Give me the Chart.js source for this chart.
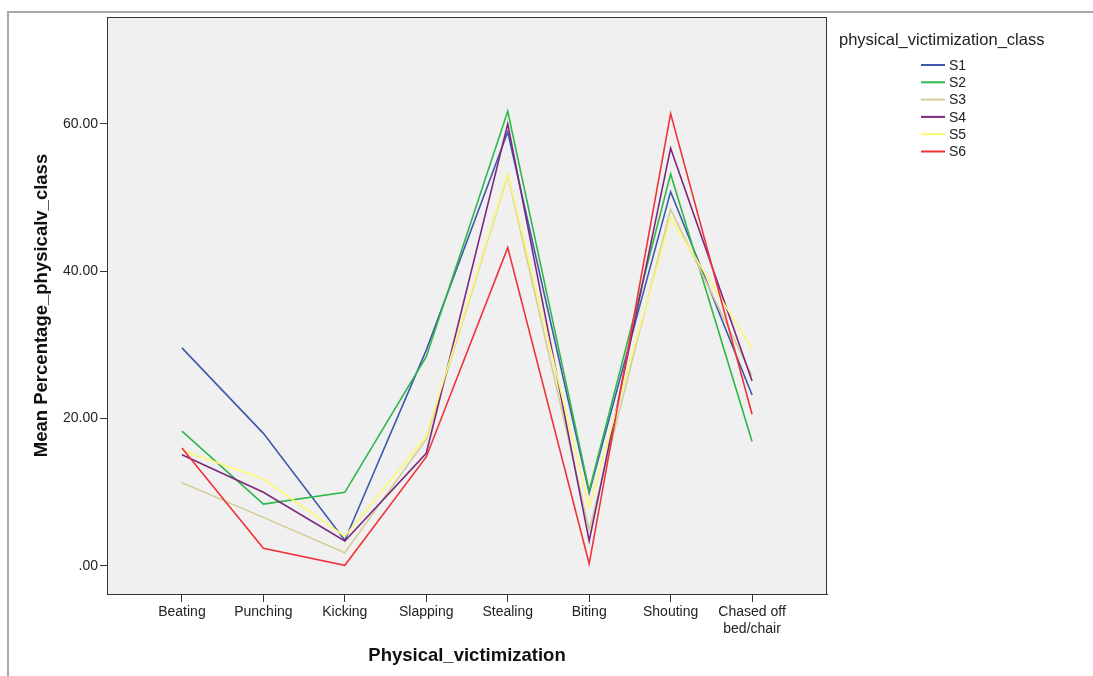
<!DOCTYPE html>
<html>
<head>
<meta charset="utf-8">
<title>Physical victimization</title>
<script src="https://cdn.jsdelivr.net/npm/chart.js@4"></script>
<style>
    html, body { margin: 0; padding: 0; background: #ffffff; }
    canvas { display: block; }
</style>
</head>
<body>
<canvas id="chart" width="1093" height="676"></canvas>
<script>
// Categories on the x axis
const categories = ['Beating', 'Punching', 'Kicking', 'Slapping', 'Stealing', 'Biting', 'Shouting', ['Chased off', 'bed/chair']];

// Mean percentage per class
const s1 = [29.6, 18.0, 3.5, 29.3, 58.9, 9.9, 50.8, 23.2];
const s2 = [18.3, 8.4, 10.0, 28.4, 61.7, 10.2, 53.2, 16.9];
const s3 = [11.3, 6.6, 1.8, 17.2, 53.0, 4.9, 48.4, 25.8];
const s4 = [15.1, 10.0, 3.4, 15.3, 60.0, 3.4, 56.7, 25.1];
const s5 = [15.7, 11.8, 4.0, 17.6, 53.2, 8.0, 47.2, 29.5];
const s6 = [16.0, 2.4, 0.1, 14.8, 43.2, 0.3, 61.4, 20.6];

const seriesNames = ['S1', 'S2', 'S3', 'S4', 'S5', 'S6'];
const seriesValues = [s1, s2, s3, s4, s5, s6];
const seriesColors = ['#3e58ac', '#2eb848', '#d3ce97', '#7c287d', '#fbf873', '#ef3338'];

// Tick labels
const yTicks = [0, 20, 40, 60];
const xTicks = categories.map((c, i) => i);

const FONT = "'Liberation Sans', Arial, sans-serif";
Chart.defaults.font.family = FONT;
Chart.defaults.color = '#222222';

// Grey plot background, frame, outer border and legend
const spssLook = {
    id: 'spssLook',
    beforeDraw(chart) {
        const { ctx, chartArea: a } = chart;
        ctx.save();
        ctx.strokeStyle = '#a8a8a8';
        ctx.lineWidth = 2;
        ctx.beginPath();
        ctx.moveTo(8, 676);
        ctx.lineTo(8, 12);
        ctx.lineTo(1093, 12);
        ctx.stroke();
        ctx.fillStyle = '#f0f0f0';
        ctx.fillRect(a.left, a.top, a.right - a.left, a.bottom - a.top);
        ctx.restore();
    },
    afterDraw(chart) {
        const { ctx, chartArea: a } = chart;
        ctx.save();
        ctx.strokeStyle = '#333333';
        ctx.lineWidth = 1;
        ctx.strokeRect(a.left + 0.5, a.top + 0.5, a.right - a.left - 1, a.bottom - a.top);

        // legend
        ctx.fillStyle = '#222222';
        ctx.textBaseline = 'middle';
        ctx.font = '16.5px ' + FONT;
        ctx.fillText('physical_victimization_class', 839, 40);
        ctx.font = '14px ' + FONT;
        chart.data.datasets.forEach((ds, i) => {
            const y = 65 + i * 17.3;
            ctx.strokeStyle = ds.borderColor;
            ctx.lineWidth = 2;
            ctx.beginPath();
            ctx.moveTo(921, y);
            ctx.lineTo(945, y);
            ctx.stroke();
            ctx.fillText(ds.label, 949, y + 1);
        });
        ctx.restore();
    }
};

new Chart(document.getElementById('chart'), {
    type: 'line',
    data: {
        datasets: seriesNames.map((name, i) => ({
            label: name,
            data: seriesValues[i].map((v, j) => ({ x: j, y: v })),
            borderColor: seriesColors[i],
            backgroundColor: seriesColors[i],
            borderWidth: 1.6,
            pointRadius: 0,
            tension: 0,
            fill: false,
            order: seriesNames.length - 1 - i   // later series on top
        }))
    },
    options: {
        responsive: false,
        animation: false,
        devicePixelRatio: 1,
        layout: { padding: { top: 17, right: 266, bottom: 0, left: 0 } },
        plugins: {
            legend: { display: false },
            tooltip: { enabled: false }
        },
        scales: {
            x: {
                type: 'linear',
                min: -0.92,
                max: 7.92,
                afterFit: scale => { scale.height = 82; },
                afterBuildTicks: scale => { scale.ticks = xTicks.map(v => ({ value: v })); },
                ticks: {
                    autoSkip: false,
                    maxRotation: 0,
                    padding: 2,
                    font: { size: 14 },
                    color: '#222222',
                    callback: value => categories[value]
                },
                grid: { drawOnChartArea: false, drawTicks: true, tickLength: 8, color: '#333333' },
                border: { display: true, color: '#333333' },
                title: {
                    display: true,
                    text: 'Physical_victimization',
                    font: { size: 18.5, weight: 'bold' },
                    color: '#111111',
                    padding: { top: 0, bottom: 9 }
                }
            },
            y: {
                min: -3.8,
                max: 74.5,
                afterFit: scale => { scale.width = 107; },
                afterBuildTicks: scale => { scale.ticks = yTicks.map(v => ({ value: v })); },
                ticks: {
                    padding: 2,
                    font: { size: 14 },
                    color: '#222222',
                    callback: value => value === 0 ? '.00' : value.toFixed(2)
                },
                grid: { drawOnChartArea: false, drawTicks: true, tickLength: 7, color: '#333333' },
                border: { display: true, color: '#333333' },
                title: {
                    display: true,
                    text: 'Mean Percentage_physicalv_class',
                    font: { size: 18.5, weight: 'bold' },
                    color: '#111111',
                    padding: { top: 31, bottom: 0 }
                }
            }
        }
    },
    plugins: [spssLook]
});
</script>
</body>
</html>
